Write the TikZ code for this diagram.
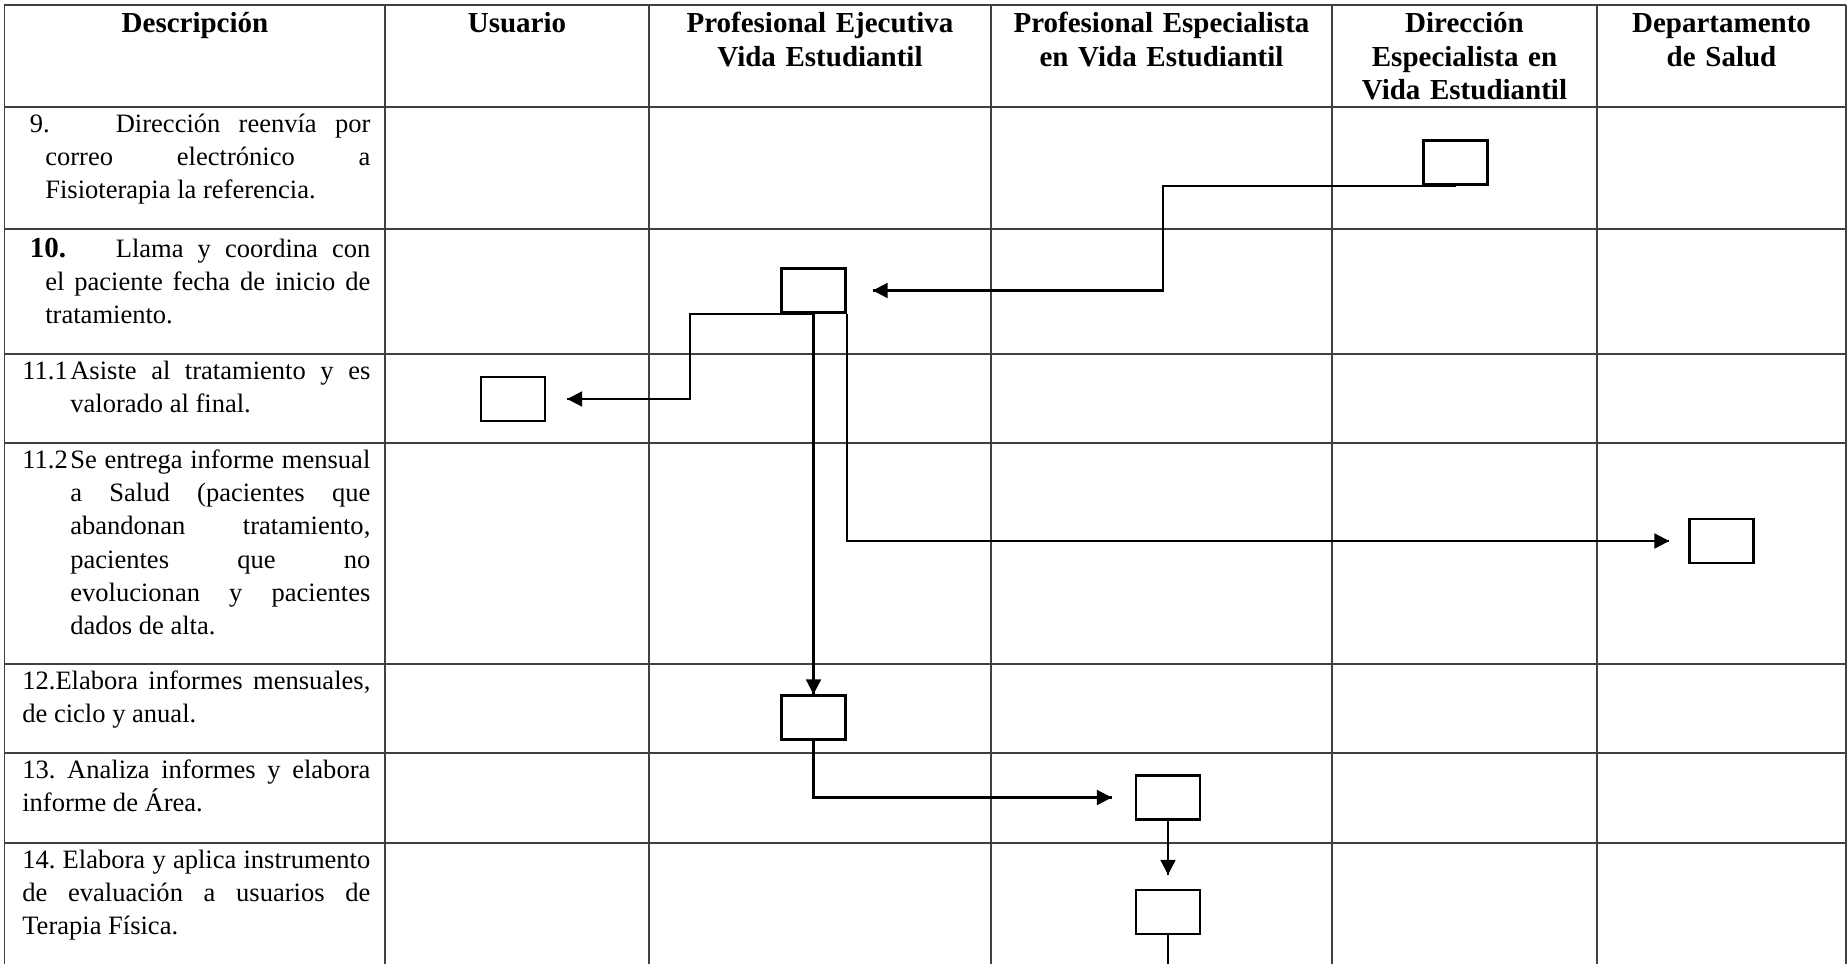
\documentclass[tikz,border=0pt]{standalone}
\usepackage{fontspec}
\setmainfont{Liberation Serif}
\usetikzlibrary{arrows.meta,decorations.markings}
\tikzset{->/.style = {decoration={markings, mark=at position 1 with {\arrow{Triangle[length=3mm,width=3mm]}}}, postaction={decorate}}}
\frenchspacing

\begin{document}
\begin{tikzpicture}[
    grid/.style={draw=black!75,line width=1pt},
    flow/.style={line width=1.3pt},
    box/.style={draw,line width=1.4pt,minimum width=1.28cm,
        minimum height=0.88cm,inner sep=0pt},
    head/.style={font={\fontsize{16.5}{19.1}\selectfont\bfseries},
        text width=6.4cm,align=center,anchor=base,inner sep=0pt},
    desc/.style={font={\fontsize{15.1}{19}\selectfont},
        align=justify,anchor=base west,inner sep=0pt},
    ]
    \useasboundingbox (0,0) rectangle (36.96,-19.28);

    % Table rules
    \foreach \y in {0.1,2.14,4.58,7.08,8.86,13.28,15.06,16.86}
        \draw[grid] (0.09,-\y) -- (36.92,-\y);
    \foreach \x in {0.09,7.70,12.98,19.82,26.64,31.94,36.92}
        \draw[grid] (\x,-0.1) -- (\x,-19.28);

    % Column heads
    \node[head] (hdesc) at (3.9,-0.65) {Descripción};
    \node[head] (husu) at (10.34,-0.65) {Usuario};
    \node[head] (hpe) at (16.40,-0.65) {Profesional Ejecutiva\\Vida Estudiantil};
    \node[head] (hesp) at (23.23,-0.65) {Profesional Especialista\\en Vida Estudiantil};
    \node[head] (hdir) at (29.29,-0.65) {Dirección\\Especialista en\\Vida Estudiantil};
    \node[head] (hsal) at (34.43,-0.65) {Departamento\\de Salud};

    % Steps (hanging indent needs the \par inside the node)
    \node[desc,text width=6.81cm] (d9) at (0.59,-2.64) {\hangindent=0.31cm\hangafter=1\makebox[1.72cm][l]{9.}Dirección reenvía por\linebreak correo electrónico a\linebreak Fisioterapia la referencia.\par};
    \node[desc,text width=6.81cm] (d10) at (0.59,-5.14) {\hangindent=0.31cm\hangafter=1\makebox[1.72cm][l]{\fontsize{16.5}{19}\selectfont\bfseries 10.}Llama y coordina con\linebreak el paciente fecha de inicio de\linebreak tratamiento.\par};
    \node[desc,text width=6.96cm] (d111) at (0.44,-7.58) {\hangindent=0.96cm\hangafter=1\makebox[0.96cm][l]{11.1}Asiste al tratamiento y es\linebreak valorado al final.\par};
    \node[desc,text width=6.96cm] (d112) at (0.44,-9.36) {\hangindent=0.96cm\hangafter=1\makebox[0.96cm][l]{11.2}Se entrega informe mensual\linebreak a Salud (pacientes que\linebreak abandonan tratamiento,\linebreak pacientes que no\linebreak evolucionan y pacientes\linebreak dados de alta.\par};
    \node[desc,text width=6.96cm] (d12) at (0.44,-13.78) {12.Elabora informes mensuales,\linebreak de ciclo y anual.\par};
    \node[desc,text width=6.96cm] (d13) at (0.44,-15.56) {13. Analiza informes y elabora\linebreak informe de Área.\par};
    \node[desc,text width=6.96cm] (d14) at (0.44,-17.36) {14. Elabora y aplica instrumento\linebreak de evaluación a usuarios de\linebreak Terapia Física.\par};

    % Boxes
    \node[box] (c9) at (29.11,-3.25) {};
    \node[box] (c10) at (16.27,-5.81) {};
    \node[box] (c111) at (10.26,-7.98) {};
    \node[box] (c112) at (34.43,-10.82) {};
    \node[box] (c12) at (16.27,-14.35) {};
    \node[box] (c13) at (23.36,-15.95) {};
    \node[box] (c14) at (23.36,-18.24) {};

    % Connectors
    \draw[flow,->] (c9.south) -- ++(-5.85,0) |- ([xshift=0.52cm]c10.east);
    \draw[flow,->] (c10.south) -- ++(-2.47,0) |- ([xshift=0.42cm]c111.east);
    \draw[flow,->] (c10.south) -- (c12.north);
    \draw[flow,->] (c10.south east) |- ([xshift=-0.38cm]c112.west);
    \draw[flow,->] (c12.south) |- ([xshift=-0.46cm]c13.west);
    \draw[flow,->] (c13.south) -- ([yshift=0.28cm]c14.north);
    \coordinate (fin) at (23.36,-19.28);
    \draw[flow] (c14.south) -- (fin);

\end{tikzpicture}
\end{document}
